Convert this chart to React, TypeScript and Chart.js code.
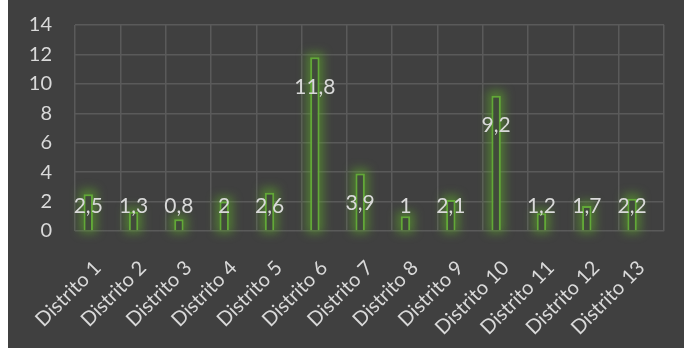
import React, { useEffect, useRef } from "react";
import { Chart, registerables } from "chart.js";

Chart.register(...registerables);

const categories = [
  "Distrito 1", "Distrito 2", "Distrito 3", "Distrito 4", "Distrito 5", "Distrito 6", "Distrito 7",
  "Distrito 8", "Distrito 9", "Distrito 10", "Distrito 11", "Distrito 12", "Distrito 13",
];
const values = [2.5, 1.3, 0.8, 2, 2.6, 11.8, 3.9, 1, 2.1, 9.2, 1.2, 1.7, 2.2];
const emptySeries = categories.map(() => null);
const yMin = 0;
const yMax = 14;
const yStep = 2;

const FONT = "Lato, 'Noto Sans', sans-serif";
const TEXT = "#d9d9d9";
const BG = "#404040";

export default function App() {
  const ref = useRef<HTMLCanvasElement | null>(null);

  useEffect(() => {
    if (!ref.current) return;
    const bgPlugin = {
      id: "bg",
      beforeDraw(chart: any) {
        const ctx = chart.ctx;
        ctx.save();
        ctx.fillStyle = BG;
        ctx.fillRect(0, 0, chart.width, chart.height);
        ctx.restore();
      },
    };
    const glowPlugin = {
      id: "glow",
      beforeDatasetsDraw(chart: any) {
        const ctx = chart.ctx;
        const meta = chart.getDatasetMeta(0);
        ctx.save();
        ctx.filter = "blur(5px)";
        ctx.fillStyle = "rgba(95,175,40,0.5)";
        meta.data.forEach((bar: any) => {
          const w = bar.width + 8;
          const top = Math.min(bar.y, bar.base) - 5;
          const h = Math.abs(bar.base - bar.y) + 8;
          ctx.fillRect(bar.x - w / 2, top, w, h);
        });
        ctx.restore();
      },
      afterDatasetsDraw(chart: any) {
        const ctx = chart.ctx;
        const meta = chart.getDatasetMeta(0);
        const zeroY = chart.scales.y.getPixelForValue(0);
        ctx.save();
        ctx.fillStyle = TEXT;
        ctx.font = `21px ${FONT}`;
        ctx.textAlign = "center";
        ctx.textBaseline = "middle";
        meta.data.forEach((bar: any, i: number) => {
          const v = values[i];
          const y = Math.min(bar.y + 30, zeroY - 25);
          ctx.fillText(String(v).replace(".", ","), bar.x, y);
        });
        ctx.restore();
      },
    };

    const chart = new Chart(ref.current, {
      type: "bar",
      data: {
        labels: categories,
        datasets: [
          {
            data: values,
            backgroundColor: "#414a3b",
            borderColor: "#62a838",
            borderWidth: 2,
            categoryPercentage: 0.83,
            barPercentage: 0.5,
          },
          {
            data: emptySeries as any,
            backgroundColor: "rgba(0,0,0,0)",
            categoryPercentage: 0.83,
            barPercentage: 0.5,
          },
        ],
      },
      options: {
        responsive: false,
        animation: false,
        devicePixelRatio: 1,
        layout: { padding: { left: 0, right: 14, top: 4, bottom: 0 } },
        plugins: {
          legend: { display: false },
          tooltip: { enabled: false },
        },
        scales: {
          x: {
            grid: { color: "#5a5a5a", lineWidth: 1.5, drawTicks: false, offset: true },
            border: { display: false },
            ticks: {
              color: TEXT,
              font: { family: FONT, size: 20 },
              maxRotation: 45,
              minRotation: 45,
              padding: 25,
              autoSkip: false,
            },
            afterFit(scale: any) {
              scale.height = 117;
            },
          },
          y: {
            min: yMin,
            max: yMax,
            grid: { color: "#5a5a5a", lineWidth: 1.5, drawTicks: false },
            border: { display: false },
            ticks: {
              stepSize: yStep,
              color: TEXT,
              font: { family: FONT, size: 20 },
              padding: 23,
            },
            afterFit(scale: any) {
              scale.width = 67;
            },
          },
        },
      },
      plugins: [bgPlugin, glowPlugin],
    });
    return () => chart.destroy();
  }, []);

  return (
    <div style={{ position: "absolute", left: 8, top: 0, width: 676, height: 348, overflow: "hidden" }}>
      <canvas
        ref={ref}
        width={676}
        height={358}
        style={{ display: "block", position: "absolute", left: 0, top: -10 }}
      />
    </div>
  );
}
